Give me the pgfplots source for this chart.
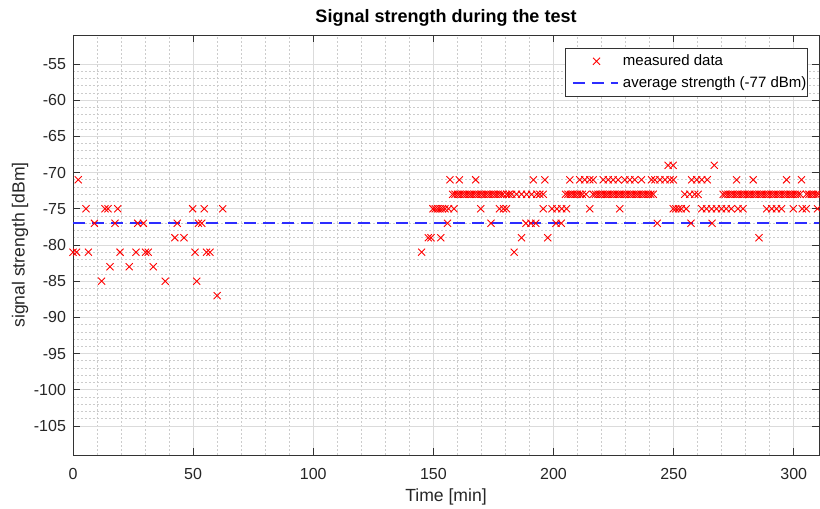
\documentclass[border=0pt]{standalone}
\usepackage{pgfplots}
\pgfplotsset{compat=1.18}
\usepackage{fontspec}
\setmainfont{Liberation Sans}

\definecolor{mblue}{RGB}{45,45,255}
\definecolor{mred}{RGB}{255,0,0}
\pgfplotsset{
  markleg/.style={legend image code/.code={\path (0cm,0cm) (0.96cm,0cm); \draw[##1] plot coordinates {(0.53cm,0cm)};}},
  lineleg/.style={legend image code/.code={\path (0cm,0cm) (0.96cm,0cm); \draw[##1] (0.115cm,0cm) -- (0.9cm,0cm);}},
}

% measured samples (time in min, level in dBm)
\pgfplotstableread{
t v
0 -81
1.5 -81
2.2 -71
5.4 -75
6.4 -81
8.9 -77
11.9 -85
13.3 -75
14.6 -75
15.4 -83
17.5 -77
18.6 -75
19.6 -81
23.4 -83
26.2 -81
26.9 -77
29.3 -77
30.2 -81
31.3 -81
33.4 -83
38.4 -85
42.4 -79
43.4 -77
46.2 -79
49.8 -75
50.8 -81
51.5 -85
52.2 -77
53.6 -77
54.6 -75
55.6 -81
57.0 -81
60.0 -87
62.3 -75
145.1 -81
183.6 -81
147.9 -79
149.0 -79
153.1 -79
186.7 -79
197.6 -79
285.5 -79
155.9 -77
174.0 -77
188.5 -77
190.6 -77
192.6 -77
201.0 -77
203.2 -77
243.2 -77
257.2 -77
266.0 -77
149.8 -75
150.8 -75
151.8 -75
152.8 -75
153.8 -75
154.8 -75
156.3 -75
158.6 -75
169.7 -75
177.5 -75
179.2 -75
180.4 -75
195.7 -75
199.4 -75
201.4 -75
203.4 -75
205.4 -75
215.1 -75
227.6 -75
249.8 -75
250.9 -75
252.0 -75
253.2 -75
255.2 -75
261.7 -75
263.7 -75
265.8 -75
267.8 -75
269.9 -75
271.9 -75
274.0 -75
276.8 -75
278.9 -75
288.7 -75
290.8 -75
292.8 -75
294.9 -75
299.8 -75
303.5 -75
305.2 -75
309.9 -75
158 -73
159 -73
160 -73
161 -73
162 -73
163 -73
164 -73
165 -73
166 -73
167 -73
168 -73
169 -73
170 -73
171 -73
172 -73
173 -73
174 -73
175 -73
176 -73
177 -73
178 -73
179 -73
180.5 -73
181.5 -73
182.6 -73
184.6 -73
186.7 -73
188.8 -73
190.9 -73
193.0 -73
194.3 -73
195.7 -73
205 -73
206 -73
207 -73
208 -73
209 -73
210 -73
211 -73
212 -73
213.5 -73
216.5 -73
217.5 -73
218.5 -73
219.5 -73
220.5 -73
221.5 -73
222.5 -73
223.5 -73
224.5 -73
225.5 -73
226.5 -73
227.5 -73
228.5 -73
229.5 -73
230.5 -73
231.5 -73
232.5 -73
233.5 -73
234.5 -73
235.5 -73
236.5 -73
237.5 -73
238.5 -73
239.5 -73
240.5 -73
241.5 -73
254.6 -73
256.7 -73
258.8 -73
260.2 -73
270.6 -73
271.6 -73
272.6 -73
273.6 -73
274.6 -73
275.6 -73
276.6 -73
277.6 -73
278.6 -73
279.6 -73
280.6 -73
281.6 -73
282.6 -73
283.6 -73
284.6 -73
285.6 -73
286.6 -73
287.6 -73
288.6 -73
289.6 -73
290.6 -73
291.6 -73
292.6 -73
293.6 -73
294.6 -73
295.6 -73
296.6 -73
297.6 -73
298.6 -73
299.6 -73
300.6 -73
301.6 -73
302.6 -73
305.3 -73
306.3 -73
307.3 -73
308.3 -73
309.3 -73
310.3 -73
156.9 -71
160.8 -71
167.6 -71
191.6 -71
196.4 -71
206.8 -71
210.9 -71
213.0 -71
215.1 -71
216.5 -71
220.7 -71
222.8 -71
224.8 -71
226.9 -71
229.7 -71
231.8 -71
233.8 -71
236.6 -71
240.8 -71
242.2 -71
244.3 -71
246.4 -71
248.5 -71
249.9 -71
257.5 -71
259.6 -71
261.7 -71
264.0 -71
276.2 -71
283.1 -71
297.0 -71
303.2 -71
247.7 -69
249.8 -69
266.9 -69
}\measured

\begin{document}
\begin{tikzpicture}
\begin{axis}[
    scale only axis,
    width=373pt, height=210pt,
    xmin=0, xmax=310.5, ymin=-109, ymax=-51,
    xtick={0,50,...,300}, ytick={-105,-100,...,-55},
    minor x tick num=4, minor y tick num=4,
    grid=both,
    major grid style={black!14, line width=0.4pt},
    minor grid style={black!20, line width=0.35pt, dash pattern=on 1pt off 1pt},
    tick align=inside, major tick length=3.5pt, minor tick length=0pt,
    axis line style={black!80, line width=0.4pt},
    every tick/.style={black!80, line width=0.4pt},
    /pgf/number format/assume math mode=true,
    ticklabel style={font=\fontsize{8}{9}\selectfont, text=black!85},
    xticklabel style={yshift=-3pt},
    xlabel={Time [min]},
    ylabel={signal strength [dBm]},
    label style={font=\fontsize{8.8}{10}\selectfont, text=black!85},
    xlabel style={at={(axis description cs:0.5,-0.1)}, anchor=center},
    ylabel style={at={(axis description cs:-0.071,0.5)}, anchor=center},
    every axis title shift=0pt,
    title={Signal strength during the test},
    title style={font=\bfseries\fontsize{9}{10}\selectfont, at={(axis description cs:0.5,1.04)}, anchor=center},
    legend cell align=left,
    legend style={at={(axis description cs:1,1)}, anchor=north east,
        xshift=-5.5pt, yshift=-6.5pt, font=\fontsize{7.5}{9}\selectfont,
        draw=black!80, line width=0.4pt, fill=white, inner xsep=0pt, inner ysep=1pt,
        row sep=0pt, nodes={inner xsep=0.6pt}},
]
\addplot[only marks, mark=x, color=mred, mark size=2.5pt, line width=0.45pt, markleg]
    table[x=t, y=v] {\measured};
\addlegendentry{measured data}
\addplot[color=mblue, draw=mblue, line width=0.8pt, dash pattern=on 6pt off 3.5pt, lineleg]
    coordinates {(0,-77) (310.5,-77)};
\addlegendentry{average strength (-77 dBm)}
\end{axis}
\pgfresetboundingbox
\path ([xshift=-36.5pt,yshift=-27pt]current axis.south west) rectangle ([xshift=0.5pt,yshift=17.5pt]current axis.north east);
\end{tikzpicture}
\end{document}
